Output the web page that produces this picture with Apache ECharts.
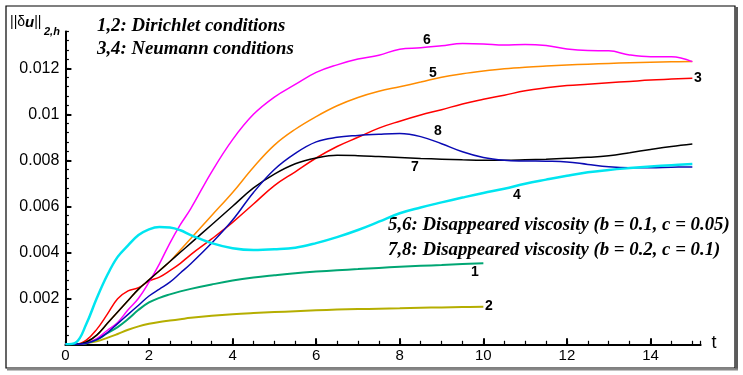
<!DOCTYPE html>
<html><head><meta charset="utf-8">
<script src="https://cdn.jsdelivr.net/npm/echarts@6/dist/echarts.min.js"></script>
<style>html,body{margin:0;padding:0;background:#fff}#c{width:743px;height:375px}</style>
</head><body><div id="c"></div>
<script>
// time grid
const T = [0,0.25,0.5,0.75,1,1.25,1.5,1.75,2,2.25,2.5,2.75,3,3.5,4,4.5,5,5.5,6,6.5,7,7.5,8,8.5,9,9.5,10,10.5,11,11.5,12,12.5,13,13.5,14,14.5,15];
const T10 = T.slice(0, 27); // up to t = 10

// 1,2: Dirichlet (to t = 10)
const v1 = [0,0,0.00005,0.0002,0.00048,0.00075,0.0011,0.0015,0.00182,0.00202,0.00217,0.0023,0.00241,0.0026,0.00277,0.0029,0.003,0.00309,0.00316,0.00322,0.00327,0.00332,0.00337,0.00341,0.00345,0.00349,0.00352];
const v2 = [0,0,0.00005,0.00013,0.00028,0.00045,0.00063,0.00078,0.00089,0.00097,0.00103,0.00109,0.00115,0.00124,0.00131,0.00136,0.0014,0.00144,0.00148,0.00151,0.00153,0.00155,0.00157,0.00159,0.0016,0.00162,0.00163];
// 3,4: Neumann
const v3 = [0,0,0.00018,0.00065,0.0013,0.00198,0.00232,0.00246,0.00275,0.00292,0.0032,0.00352,0.0039,0.00458,0.0053,0.0061,0.0069,0.0075,0.0081,0.0086,0.009,0.0094,0.0097,0.00997,0.0102,0.01045,0.01065,0.01083,0.01102,0.01115,0.01125,0.01131,0.01137,0.01143,0.01149,0.01153,0.01157];
const v4 = [0,0.00008,0.00088,0.002,0.003,0.0038,0.0043,0.00475,0.005,0.0051,0.00508,0.00496,0.00475,0.0044,0.00418,0.0041,0.00413,0.0042,0.0044,0.00466,0.00497,0.00533,0.0057,0.00595,0.00617,0.00638,0.00658,0.00676,0.00698,0.00716,0.00733,0.00748,0.00758,0.00766,0.00773,0.00779,0.00784];
// 5,6: b = 0.1, c = 0.05
const v5 = [0,0,0.0001,0.0004,0.0009,0.0014,0.0019,0.0024,0.0028,0.0032,0.0036,0.0041,0.0046,0.0056,0.0066,0.0077,0.00866,0.00935,0.0099,0.01037,0.01073,0.011,0.0112,0.0114,0.01161,0.01176,0.01188,0.01198,0.01205,0.0121,0.01214,0.01218,0.01221,0.01224,0.01226,0.01228,0.0123];
const v6 = [0,0,0.00005,0.00025,0.0006,0.00095,0.0015,0.002,0.0027,0.0035,0.0044,0.0052,0.0059,0.0075,0.0089,0.01,0.01075,0.0113,0.01182,0.01215,0.0124,0.01257,0.01283,0.01289,0.01298,0.01308,0.01306,0.01301,0.01304,0.01299,0.01284,0.01277,0.01276,0.01258,0.0125,0.0125,0.01229];
// 7,8: b = 0.2, c = 0.1
const v7 = [0,0,0.0001,0.0004,0.0009,0.0014,0.0019,0.0024,0.0028,0.0032,0.0036,0.004,0.0044,0.0052,0.006,0.0068,0.0074,0.00785,0.0081,0.00822,0.0082,0.00816,0.00812,0.00808,0.00805,0.00802,0.008,0.008,0.00802,0.00805,0.00809,0.00813,0.0082,0.00833,0.00847,0.0086,0.00871];
const v8 = [0,0,0.00005,0.0002,0.0005,0.0009,0.0013,0.0017,0.0021,0.0024,0.0027,0.0031,0.0035,0.0044,0.0054,0.0066,0.0076,0.0083,0.0088,0.009,0.00908,0.00913,0.00916,0.00903,0.00872,0.00837,0.00812,0.008,0.00797,0.00796,0.00793,0.00782,0.00772,0.00768,0.00768,0.0077,0.00771];

const xTicks = [0,2,4,6,8,10,12,14];
const yTicks = [0.002,0.004,0.006,0.008,0.01,0.012];

const zip = (t, v) => t.map((x, i) => [x, v[i]]);
const SANS = 'Liberation Sans, Arial, sans-serif';
const SERIF = 'Liberation Serif, Times New Roman, serif';

const chart = echarts.init(document.getElementById('c'), null, {renderer: 'canvas'});
function line(name, t, v, color, w) {
  return {name, type: 'line', data: zip(t, v), showSymbol: false, smooth: 0.4,
    lineStyle: {color, width: w}, itemStyle: {color}, animation: false, xAxisIndex: 0, yAxisIndex: 0};
}
const labels = [
  ['6', 427, 40], ['5', 433, 73], ['3', 698, 78], ['8', 438, 131], ['7', 415, 167],
  ['4', 517, 195], ['1', 475, 272], ['2', 489, 306]
];
const bi = {fontFamily: SERIF, fontSize: 18.8, fontStyle: 'italic', fontWeight: 'bold', fill: '#000'};
chart.setOption({
  animation: false,
  backgroundColor: '#fff',
  grid: {left: 65.4, right: 42.3, top: 31.5, bottom: 30.7},
  xAxis: [
    {type: 'value', min: 0, max: 15.2, interval: 2, position: 'bottom',
     axisLine: {show: true, onZero: false, lineStyle: {color: '#000', width: 2}},
     axisTick: {inside: true, length: 6, lineStyle: {color: '#000', width: 2}},
     splitLine: {show: false},
     axisLabel: {color: '#000', fontFamily: SANS, fontSize: 15, margin: 4, showMaxLabel: false,
       formatter: v => xTicks.includes(v) ? String(v) : ''}},
    {type: 'value', min: 0, max: 15.2, interval: 0.5, position: 'bottom',
     axisLine: {show: false, onZero: false}, axisTick: {inside: true, length: 3.5, lineStyle: {color: '#000', width: 1.2}},
     splitLine: {show: false}, axisLabel: {show: false}}
  ],
  yAxis: [
    {type: 'value', min: 0, max: 0.0136, interval: 0.002, position: 'left',
     axisLine: {show: true, onZero: false, lineStyle: {color: '#000', width: 2}},
     axisTick: {inside: true, length: 6, lineStyle: {color: '#000', width: 2}},
     splitLine: {show: false},
     axisLabel: {color: '#000', fontFamily: SANS, fontSize: 16, margin: 6, showMaxLabel: false,
       formatter: v => { const r = yTicks.find(y => Math.abs(y - v) < 1e-9); return r ? String(r) : ''; }}},
    {type: 'value', min: 0, max: 0.0136, interval: 0.0004, position: 'left',
     axisLine: {show: false, onZero: false}, axisTick: {inside: true, length: 3.5, lineStyle: {color: '#000', width: 1.2}},
     splitLine: {show: false}, axisLabel: {show: false}}
  ],
  series: [
    line('2', T10, v2, '#b5ae00', 2),
    line('1', T10, v1, '#00a673', 2),
    line('3', T, v3, '#ff0000', 1.5),
    line('5', T, v5, '#ff8c00', 1.5),
    line('6', T, v6, '#ff00ff', 1.5),
    line('7', T, v7, '#000000', 1.5),
    line('8', T, v8, '#0a0ab4', 1.5),
    line('4', T, v4, '#00e5f0', 2.5)
  ],
  graphic: [
    {type: 'rect', shape: {x: 6, y: 6, width: 729, height: 362}, style: {fill: 'none', stroke: '#000', lineWidth: 1.2}, silent: true},
    {type: 'line', shape: {x1: 736.5, y1: 7, x2: 736.5, y2: 370}, style: {stroke: '#5a5a5a', lineWidth: 3}, silent: true},
    {type: 'line', shape: {x1: 7, y1: 369.5, x2: 738, y2: 369.5}, style: {stroke: '#888', lineWidth: 2}, silent: true},
    {type: 'text', left: 10, top: 15, style: {text: '||δ{u|u}||', fontFamily: SANS, fontSize: 14, fill: '#000',
      rich: {u: {fontFamily: SANS, fontSize: 15, fontStyle: 'italic', fontWeight: 'bold', fill: '#000'}}}},
    {type: 'text', left: 44, top: 26, style: {text: '2,h', fontFamily: SANS, fontSize: 11, fontStyle: 'italic', fontWeight: 'bold', fill: '#000'}},
    {type: 'text', left: 97, top: 17, style: Object.assign({text: '1,2: Dirichlet conditions'}, bi)},
    {type: 'text', left: 97, top: 40, style: Object.assign({text: '3,4: Neumann conditions'}, bi)},
    {type: 'text', left: 388, top: 216, style: Object.assign({text: '5,6: Disappeared viscosity (b = 0.1, c = 0.05)'}, bi)},
    {type: 'text', left: 388, top: 241, style: Object.assign({text: '7,8: Disappeared viscosity (b = 0.2, c = 0.1)'}, bi)},
    {type: 'text', x: 714, y: 343, style: {text: 't', fontFamily: SANS, fontSize: 18, fill: '#000', align: 'center', verticalAlign: 'middle'}}
  ].concat(labels.map(([s, x, y]) => ({type: 'text', x, y, z: 100,
    style: {text: s, fontFamily: SANS, fontSize: 14, fontWeight: 'bold', fill: '#000', align: 'center', verticalAlign: 'middle'}})))
});
</script>
</body></html>
